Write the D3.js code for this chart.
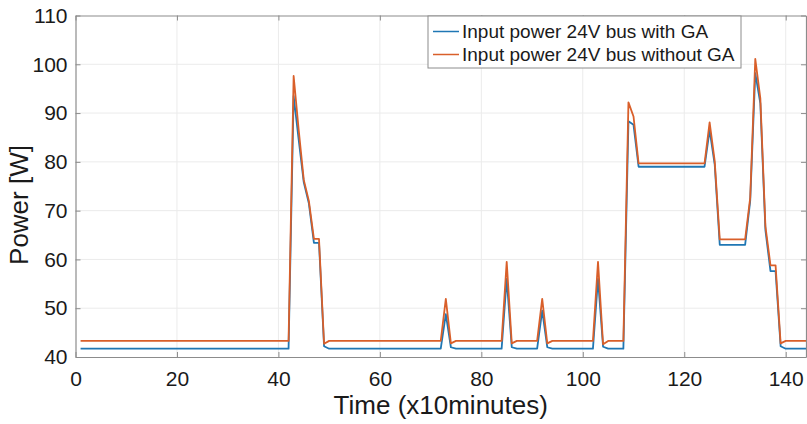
<!DOCTYPE html>
<html>
<head>
<meta charset="utf-8">
<script src="https://cdn.jsdelivr.net/npm/d3@7"></script>
<style>
	body { margin: 0; background: #fff; }
	svg text { font-family: 'Liberation Sans', Arial, sans-serif; fill: #1a1a1a; }
</style>
</head>
<body>
<svg id="chart" width="807" height="424"></svg>
<script>
// time index (x10 minutes)
const times = d3.range(1, 145);

// input power with GA [W]
const withGA = [
	41.7, 41.7, 41.7, 41.7, 41.7, 41.7, 41.7, 41.7, 41.7, 41.7,
	41.7, 41.7, 41.7, 41.7, 41.7, 41.7, 41.7, 41.7, 41.7, 41.7,
	41.7, 41.7, 41.7, 41.7, 41.7, 41.7, 41.7, 41.7, 41.7, 41.7,
	41.7, 41.7, 41.7, 41.7, 41.7, 41.7, 41.7, 41.7, 41.7, 41.7,
	41.7, 41.7, 93.5, 84.5, 75.8, 71.5, 63.4, 63.4, 42.2, 41.7,
	41.7, 41.7, 41.7, 41.7, 41.7, 41.7, 41.7, 41.7, 41.7, 41.7,
	41.7, 41.7, 41.7, 41.7, 41.7, 41.7, 41.7, 41.7, 41.7, 41.7,
	41.7, 41.7, 48.8, 42.0, 41.7, 41.7, 41.7, 41.7, 41.7, 41.7,
	41.7, 41.7, 41.7, 41.7, 56.0, 42.0, 41.7, 41.7, 41.7, 41.7,
	41.7, 49.5, 42.0, 41.7, 41.7, 41.7, 41.7, 41.7, 41.7, 41.7,
	41.7, 41.7, 56.0, 42.1, 41.7, 41.7, 41.7, 41.7, 88.3, 87.6,
	79.0, 79.0, 79.0, 79.0, 79.0, 79.0, 79.0, 79.0, 79.0, 79.0,
	79.0, 79.0, 79.0, 79.0, 86.5, 79.5, 63.0, 63.0, 63.0, 63.0,
	63.0, 63.0, 72.0, 98.2, 92.0, 66.0, 57.6, 57.6, 42.2, 41.7,
	41.7, 41.7, 41.7, 41.7
];

// input power without GA [W]
const withoutGA = [
	43.3, 43.3, 43.3, 43.3, 43.3, 43.3, 43.3, 43.3, 43.3, 43.3,
	43.3, 43.3, 43.3, 43.3, 43.3, 43.3, 43.3, 43.3, 43.3, 43.3,
	43.3, 43.3, 43.3, 43.3, 43.3, 43.3, 43.3, 43.3, 43.3, 43.3,
	43.3, 43.3, 43.3, 43.3, 43.3, 43.3, 43.3, 43.3, 43.3, 43.3,
	43.3, 43.3, 97.6, 86.5, 76.3, 72.0, 64.2, 64.2, 42.7, 43.3,
	43.3, 43.3, 43.3, 43.3, 43.3, 43.3, 43.3, 43.3, 43.3, 43.3,
	43.3, 43.3, 43.3, 43.3, 43.3, 43.3, 43.3, 43.3, 43.3, 43.3,
	43.3, 43.3, 51.9, 42.8, 43.3, 43.3, 43.3, 43.3, 43.3, 43.3,
	43.3, 43.3, 43.3, 43.3, 59.5, 42.8, 43.3, 43.3, 43.3, 43.3,
	43.3, 51.9, 42.8, 43.3, 43.3, 43.3, 43.3, 43.3, 43.3, 43.3,
	43.3, 43.3, 59.5, 42.6, 43.3, 43.3, 43.3, 43.3, 92.2, 89.3,
	79.7, 79.7, 79.7, 79.7, 79.7, 79.7, 79.7, 79.7, 79.7, 79.7,
	79.7, 79.7, 79.7, 79.7, 88.1, 80.2, 64.1, 64.1, 64.1, 64.1,
	64.1, 64.1, 72.6, 101.1, 93.0, 66.8, 58.8, 58.8, 42.8, 43.3,
	43.3, 43.3, 43.3, 43.3
];

const seriesNames = ['Input power 24V bus with GA', 'Input power 24V bus without GA'];
const seriesColors = ['#1f77b4', '#d95f2a'];

const xTicks = [0, 20, 40, 60, 80, 100, 120, 140];
const yTicks = [40, 50, 60, 70, 80, 90, 100, 110];

// plot box (pixels)
const plotLeft = 75.5, plotRight = 806, plotTop = 15.5, plotBottom = 357;

const svg = d3.select('#chart');

const x = d3.scaleLinear().domain([0, 144]).range([plotLeft, plotRight]);
const y = d3.scaleLinear().domain([40, 110]).range([plotBottom, plotTop]);

// grid lines
const grid = svg.append('g').attr('stroke', '#ebebeb').attr('stroke-width', 1);
grid.selectAll('.gx')
	.data(xTicks.filter(t => t > 0))
	.enter().append('line')
		.attr('x1', d => x(d)).attr('x2', d => x(d))
		.attr('y1', plotTop).attr('y2', plotBottom);
grid.selectAll('.gy')
	.data(yTicks.filter(t => t > 40 && t < 110))
	.enter().append('line')
		.attr('x1', plotLeft).attr('x2', plotRight)
		.attr('y1', d => y(d)).attr('y2', d => y(d));

// series lines
const line = d3.line()
	.x((d, i) => x(times[i]))
	.y(d => y(d));

[withGA, withoutGA].forEach((values, i) => {
	svg.append('path')
		.datum(values)
		.attr('fill', 'none')
		.attr('stroke', seriesColors[i])
		.attr('stroke-width', 1.8)
		.attr('stroke-linejoin', 'round')
		.attr('d', line);
});

// axes (box style, ticks inward)
const axisColor = '#8c8c8c';
const xAxis = svg.append('g')
	.attr('transform', `translate(0,${plotBottom})`)
	.call(d3.axisBottom(x).tickValues(xTicks).tickSizeInner(-5).tickSizeOuter(0).tickPadding(14));
const yAxis = svg.append('g')
	.attr('transform', `translate(${plotLeft},0)`)
	.call(d3.axisLeft(y).tickValues(yTicks).tickSizeInner(-5).tickSizeOuter(0).tickPadding(8));
const xTop = svg.append('g')
	.attr('transform', `translate(0,${plotTop})`)
	.call(d3.axisTop(x).tickValues(xTicks).tickSizeInner(-5).tickSizeOuter(0).tickFormat(''));
const yRight = svg.append('g')
	.attr('transform', `translate(${plotRight},0)`)
	.call(d3.axisRight(y).tickValues(yTicks).tickSizeInner(-5).tickSizeOuter(0).tickFormat(''));

[xAxis, yAxis, xTop, yRight].forEach(a => {
	a.selectAll('path').attr('stroke', axisColor).attr('stroke-width', 1.2);
	a.selectAll('line').attr('stroke', axisColor);
	a.selectAll('text').attr('font-size', 21).attr('fill', '#1a1a1a')
		.style('font-family', "'Liberation Sans', Arial, sans-serif");
});

// axis titles
svg.append('text')
	.attr('x', (plotLeft + plotRight) / 2)
	.attr('y', 414)
	.attr('text-anchor', 'middle')
	.attr('font-size', 26)
	.text('Time (x10minutes)');

svg.append('text')
	.attr('transform', `translate(28,205) rotate(-90)`)
	.attr('text-anchor', 'middle')
	.attr('font-size', 26)
	.text('Power [W]');

// legend
const legend = svg.append('g').attr('transform', 'translate(428,16)');
legend.append('rect')
	.attr('width', 313).attr('height', 52)
	.attr('fill', '#fff')
	.attr('stroke', axisColor);
legend.selectAll('.item')
	.data(seriesNames)
	.enter().append('line')
		.attr('x1', 5).attr('x2', 31)
		.attr('y1', (d, i) => 15.5 + i * 23).attr('y2', (d, i) => 15.5 + i * 23)
		.attr('stroke', (d, i) => seriesColors[i])
		.attr('stroke-width', 1.5);
legend.selectAll('.label')
	.data(seriesNames)
	.enter().append('text')
		.attr('x', 34)
		.attr('y', (d, i) => 22 + i * 23)
		.attr('font-size', 19)
		.text(d => d);
</script>
</body>
</html>
